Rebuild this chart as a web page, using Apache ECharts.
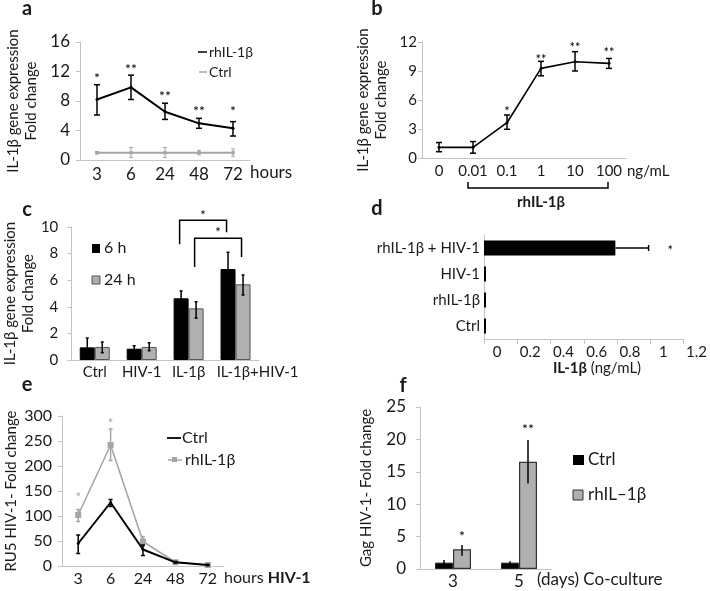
<!DOCTYPE html>
<html><head><meta charset="utf-8">
<script src="https://cdn.jsdelivr.net/npm/echarts@6/dist/echarts.min.js"></script>
<style>html,body{margin:0;padding:0;background:#fff}#c{width:710px;height:591px}</style>
</head><body><div id="c"></div>
<script>
// ---------- DATA ----------
// panel a
const aCats = ['3', '6', '24', '48', '72'];
const aRh = [8.2, 9.85, 6.55, 4.97, 4.3];
const aRhLo = [6.1, 8.2, 5.5, 4.3, 3.25];
const aRhHi = [10.2, 11.5, 7.7, 5.65, 5.2];
const aCtrl = [1.0, 1.0, 1.0, 1.0, 1.0];
const aCtrlLo = [0.85, 0.35, 0.35, 0.7, 0.5];
const aCtrlHi = [1.15, 1.7, 1.7, 1.3, 1.5];
const aStars = ['*', '**', '**', '**', '*'];
const aStarY = [11.1, 12.3, 8.6, 6.6, 6.6];
// panel b
const bCats = ['0', '0.01', '0.1', '1', '10', '100'];
const bVal = [1.1, 1.1, 3.65, 9.27, 9.96, 9.79];
const bLo = [0.65, 0.5, 2.97, 8.5, 9.0, 9.27];
const bHi = [1.6, 1.7, 4.45, 10.0, 11.0, 10.3];
const bStars = ['', '', '*', '**', '**', '**'];
const bStarY = [0, 0, 4.8, 10.2, 11.45, 10.9];
// panel c
const cCats = ['Ctrl', 'HIV-1', 'IL-1β', 'IL-1β+HIV-1'];
const c6h = [0.95, 0.85, 4.64, 6.84];
const c6hLo = [0.3, 0.65, 4.1, 5.6];
const c6hHi = [1.65, 1.07, 5.19, 8.1];
const c24h = [0.98, 0.98, 3.88, 5.69];
const c24hLo = [0.55, 0.7, 3.15, 4.89];
const c24hHi = [1.35, 1.3, 4.38, 6.39];
// brackets: [fromCat, toCat, topValue, leftLegEnd, rightLegEnd, series(0=6h,1=24h)]
const cBrackets = [[2, 3, 10.5, 8.7, 9.6, 0], [2, 3, 9.15, 7.0, 7.75, 1]];
const cBracketStars = ['*', '*'];
// panel d
const dCats = ['Ctrl', 'rhIL-1β', 'HIV-1', 'rhIL-1β + HIV-1'];
const dVal = [0.012, 0.012, 0.012, 0.79];
const dHi = [null, null, null, 0.99];
const dStarX = [null, null, null, 1.12];
const dStars = ['', '', '', '*'];
// panel e
const eCats = ['3', '6', '24', '48', '72'];
const eCtrl = [45, 127, 33, 7.3, 2];
const eCtrlLo = [25, 119, 21, 6, 1];
const eCtrlHi = [62, 133, 42, 9, 3];
const eRh = [102, 242, 49, 7.5, 2];
const eRhLo = [89, 211, 40, 6, 1];
const eRhHi = [113, 274, 59, 9, 3];
const eStars = ['*', '*', '', '', ''];
const eStarY = [136, 285, 0, 0, 0];
// panel f
const fCats = ['3', '5'];
const fCtrl = [0.98, 0.98];
const fCtrlLo = [0.7, 0.8];
const fCtrlHi = [1.4, 1.2];
const fRh = [3.04, 16.56];
const fRhLo = [2.05, 13.2];
const fRhHi = [3.7, 19.9];
const fStars = ['*', '**'];
const fStarY = [5.0, 21.6];

// ---------- STYLE HELPERS ----------
const FF = 'Lato, "Noto Sans", sans-serif';
const TXT = '#1a1a1a';
const AX = '#c4c4c4';
const GREY = '#a6a6a6';

function vErr(offset, cap, color, lw) {
  return function (params, api) {
    const x = api.value(0);
    const lo = api.coord([x, api.value(1)]);
    const hi = api.coord([x, api.value(2)]);
    const cx = lo[0] + offset;
    const st = { stroke: color, lineWidth: lw };
    const ch = [{ type: 'line', shape: { x1: cx, y1: lo[1], x2: cx, y2: hi[1] }, style: st }];
    if (cap > 0) {
      ch.push({ type: 'line', shape: { x1: cx - cap, y1: lo[1], x2: cx + cap, y2: lo[1] }, style: st });
      ch.push({ type: 'line', shape: { x1: cx - cap, y1: hi[1], x2: cx + cap, y2: hi[1] }, style: st });
    }
    return { type: 'group', children: ch };
  };
}
function starRender(offset, size, color) {
  return function (params, api) {
    const p = api.coord([api.value(0), api.value(1)]);
    return { type: 'text', style: { text: api.value(2), x: p[0] + offset, y: p[1], fill: color,
      fontSize: size, fontFamily: FF, align: 'center', verticalAlign: 'middle' } };
  };
}
function errData(lo, hi) { return lo.map((v, i) => [i, v, hi[i]]); }
function starData(ys, labels) {
  return labels.map((s, i) => [i, ys[i], s]).filter(d => d[2] !== '');
}
function yAx(gi, min, max, interval, name, gap, lblSize, margin, extra) {
  return Object.assign({
    gridIndex: gi, type: 'value', min: min, max: max, interval: interval,
    name: name, nameLocation: 'middle', nameGap: gap, nameRotate: 90,
    nameTextStyle: { fontFamily: FF, fontSize: 15, color: TXT, lineHeight: 18 },
    axisLine: { show: true, lineStyle: { color: AX } },
    axisTick: { show: true, length: 4, lineStyle: { color: AX } },
    splitLine: { show: false },
    axisLabel: { fontFamily: FF, fontSize: lblSize, color: TXT, margin: margin }
  }, extra || {});
}
function xCat(gi, data, lblSize, margin, extraLabel) {
  return {
    gridIndex: gi, type: 'category', data: data, boundaryGap: true,
    axisLine: { show: true, lineStyle: { color: AX } },
    axisTick: { show: false },
    axisLabel: Object.assign({ fontFamily: FF, fontSize: lblSize, color: TXT, margin: margin, interval: 0 }, extraLabel || {})
  };
}

const option = {
  animation: false,
  backgroundColor: '#fff',
  grid: [
    { left: 80, top: 42, width: 170, height: 118 },   // a
    { left: 422, top: 42, width: 204, height: 116 },  // b
    { left: 67, top: 227, width: 192, height: 133 },  // c
    { left: 484, top: 235, width: 201, height: 104 }, // d
    { left: 62, top: 416, width: 162, height: 150 },  // e
    { left: 420, top: 407, width: 132, height: 162 }  // f
  ],
  xAxis: [
    xCat(0, aCats, 17, 6),
    xCat(1, bCats, 15, 6),
    xCat(2, cCats, 15, 5, {
      formatter: (v, i) => i === cCats.length - 1 ? '{r|' + v + '}' : v,
      rich: { r: { fontFamily: FF, fontSize: 15, color: TXT, padding: [0, 0, 0, 44] } }
    }),
    {
      gridIndex: 3, type: 'value', min: 0, max: 1.2, interval: 0.2,
      axisLine: { show: true, lineStyle: { color: AX } },
      axisTick: { show: true, length: 5, lineStyle: { color: AX } },
      splitLine: { show: false },
      axisLabel: { fontFamily: FF, fontSize: 15, color: TXT, margin: 6, padding: [0, 0, 0, 26],
        formatter: v => String(Math.round(v * 10) / 10) }
    },
    xCat(4, eCats, 16, 5),
    xCat(5, fCats, 17, 4)
  ],
  yAxis: [
    yAx(0, 0, 16, 4, 'IL-1β gene expression\nFold change', 40, 17, 10),
    yAx(1, 0, 12, 3, 'IL-1β gene expression\nFold change', 32, 15, 5),
    yAx(2, 0, 10, 2, 'IL-1β gene expression\nFold change', 34, 15, 13),
    {
      gridIndex: 3, type: 'category', data: dCats,
      axisLine: { show: true, lineStyle: { color: AX } },
      axisTick: { show: false },
      axisLabel: { fontFamily: FF, fontSize: 15, color: TXT, margin: 4 }
    },
    yAx(4, 0, 300, 50, 'RU5 HIV-1- Fold change', 42, 16, 10),
    yAx(5, 0, 25, 5, 'Gag HIV-1- Fold change', 45, 17, 14)
  ],
  series: [
    // ---- a ----
    { type: 'line', xAxisIndex: 0, yAxisIndex: 0, data: aCtrl, symbol: 'circle', symbolSize: 4,
      lineStyle: { color: GREY, width: 2 }, itemStyle: { color: GREY }, z: 3 },
    { type: 'custom', xAxisIndex: 0, yAxisIndex: 0, renderItem: vErr(0, 2, GREY, 1), data: errData(aCtrlLo, aCtrlHi), z: 3 },
    { type: 'line', xAxisIndex: 0, yAxisIndex: 0, data: aRh, symbol: 'circle', symbolSize: 3,
      lineStyle: { color: '#000', width: 2 }, itemStyle: { color: '#000' }, z: 4 },
    { type: 'custom', xAxisIndex: 0, yAxisIndex: 0, renderItem: vErr(0, 3, '#000', 1.5), data: errData(aRhLo, aRhHi), z: 4 },
    { type: 'custom', xAxisIndex: 0, yAxisIndex: 0, renderItem: starRender(0, 14, '#000'), data: starData(aStarY, aStars) },
    // ---- b ----
    { type: 'line', xAxisIndex: 1, yAxisIndex: 1, data: bVal, symbol: 'circle', symbolSize: 3,
      lineStyle: { color: '#000', width: 1.6 }, itemStyle: { color: '#000' } },
    { type: 'custom', xAxisIndex: 1, yAxisIndex: 1, renderItem: vErr(0, 3, '#000', 1.5), data: errData(bLo, bHi) },
    { type: 'custom', xAxisIndex: 1, yAxisIndex: 1, renderItem: starRender(0, 13, '#000'), data: starData(bStarY, bStars) },
    // ---- c ----
    { type: 'bar', xAxisIndex: 2, yAxisIndex: 2, data: c6h, barWidth: 15, barGap: '0%',
      itemStyle: { color: '#000', borderColor: '#000', borderWidth: 1 } },
    { type: 'bar', xAxisIndex: 2, yAxisIndex: 2, data: c24h, barWidth: 15, barGap: '0%',
      itemStyle: { color: '#b0b0b0', borderColor: '#555', borderWidth: 1 } },
    { type: 'custom', xAxisIndex: 2, yAxisIndex: 2, renderItem: vErr(-7.5, 1.5, '#000', 1.5), data: errData(c6hLo, c6hHi), z: 5 },
    { type: 'custom', xAxisIndex: 2, yAxisIndex: 2, renderItem: vErr(7.5, 1.5, '#000', 1.5), data: errData(c24hLo, c24hHi), z: 5 },
    { type: 'custom', xAxisIndex: 2, yAxisIndex: 2, data: cBrackets.map((b, i) => b.concat([cBracketStars[i]])),
      renderItem: function (params, api) {
        const off = api.value(5) === 0 ? -9 : 6;
        const l = api.coord([api.value(0), api.value(2)]);
        const r = api.coord([api.value(1), api.value(2)]);
        const le = api.coord([api.value(0), api.value(3)]);
        const re = api.coord([api.value(1), api.value(4)]);
        const xl = l[0] + off, xr = r[0] + off;
        const st = { stroke: '#000', lineWidth: 1.5, fill: null };
        return { type: 'group', children: [
          { type: 'polyline', shape: { points: [[xl, le[1]], [xl, l[1]], [xr, l[1]], [xr, re[1]]] }, style: st },
          { type: 'text', style: { text: api.value(6), x: (xl + xr) / 2, y: l[1] - 5, fill: '#000', fontSize: 13,
            fontFamily: FF, align: 'center', verticalAlign: 'middle' } }
        ] };
      } },
    // ---- d ----
    { type: 'bar', xAxisIndex: 3, yAxisIndex: 3, data: dVal, barWidth: 15, itemStyle: { color: '#000' } },
    { type: 'custom', xAxisIndex: 3, yAxisIndex: 3,
      data: dHi.map((v, i) => [i, dVal[i], v]).filter(d => d[2] !== null),
      renderItem: function (params, api) {
        const c = api.value(0);
        const a = api.coord([api.value(1), c]);
        const b = api.coord([api.value(2), c]);
        const st = { stroke: '#000', lineWidth: 1.5 };
        return { type: 'group', children: [
          { type: 'line', shape: { x1: a[0], y1: a[1], x2: b[0], y2: b[1] }, style: st },
          { type: 'line', shape: { x1: b[0], y1: b[1] - 3, x2: b[0], y2: b[1] + 3 }, style: st }
        ] };
      } },
    { type: 'custom', xAxisIndex: 3, yAxisIndex: 3,
      data: dStarX.map((v, i) => [v, i, dStars[i]]).filter(d => d[2] !== ''),
      renderItem: function (params, api) {
        const p = api.coord([api.value(0), api.value(1)]);
        return { type: 'text', style: { text: api.value(2), x: p[0], y: p[1] + 3, fill: '#000', fontSize: 13,
          fontFamily: FF, align: 'center', verticalAlign: 'middle' } };
      } },
    // ---- e ----
    { type: 'line', xAxisIndex: 4, yAxisIndex: 4, data: eCtrl, symbol: 'circle', symbolSize: 3,
      lineStyle: { color: '#000', width: 2 }, itemStyle: { color: '#000' }, z: 4 },
    { type: 'custom', xAxisIndex: 4, yAxisIndex: 4, renderItem: vErr(0, 2, '#000', 1.5), data: errData(eCtrlLo, eCtrlHi), z: 4 },
    { type: 'line', xAxisIndex: 4, yAxisIndex: 4, data: eRh, symbol: 'rect', symbolSize: 6,
      lineStyle: { color: GREY, width: 1.6 }, itemStyle: { color: GREY }, z: 3 },
    { type: 'custom', xAxisIndex: 4, yAxisIndex: 4, renderItem: vErr(0, 2, GREY, 1.5), data: errData(eRhLo, eRhHi), z: 3 },
    { type: 'custom', xAxisIndex: 4, yAxisIndex: 4, renderItem: starRender(0, 13, GREY), data: starData(eStarY, eStars) },
    // ---- f ----
    { type: 'bar', xAxisIndex: 5, yAxisIndex: 5, data: fCtrl, barWidth: 18, barGap: '0%',
      itemStyle: { color: '#000', borderColor: '#222', borderWidth: 1 } },
    { type: 'bar', xAxisIndex: 5, yAxisIndex: 5, data: fRh, barWidth: 18, barGap: '0%',
      itemStyle: { color: '#b0b0b0', borderColor: '#333', borderWidth: 1.2 } },
    { type: 'custom', xAxisIndex: 5, yAxisIndex: 5, renderItem: vErr(-9, 0, '#000', 1.5), data: errData(fCtrlLo, fCtrlHi), z: 5 },
    { type: 'custom', xAxisIndex: 5, yAxisIndex: 5, renderItem: vErr(9, 0, '#000', 1.5), data: errData(fRhLo, fRhHi), z: 5 },
    { type: 'custom', xAxisIndex: 5, yAxisIndex: 5, renderItem: starRender(9, 14, '#000'), data: starData(fStarY, fStars) }
  ],
  graphic: [
    // panel letters
    { type: 'text', x: 27, y: 9, style: { text: 'a', fontSize: 20, fontWeight: 'bold', fontFamily: FF, fill: TXT, align: 'center', verticalAlign: 'middle' } },
    { type: 'text', x: 377, y: 9, style: { text: 'b', fontSize: 20, fontWeight: 'bold', fontFamily: FF, fill: TXT, align: 'center', verticalAlign: 'middle' } },
    { type: 'text', x: 27, y: 210, style: { text: 'c', fontSize: 20, fontWeight: 'bold', fontFamily: FF, fill: TXT, align: 'center', verticalAlign: 'middle' } },
    { type: 'text', x: 377, y: 209, style: { text: 'd', fontSize: 20, fontWeight: 'bold', fontFamily: FF, fill: TXT, align: 'center', verticalAlign: 'middle' } },
    { type: 'text', x: 27, y: 385, style: { text: 'e', fontSize: 20, fontWeight: 'bold', fontFamily: FF, fill: TXT, align: 'center', verticalAlign: 'middle' } },
    { type: 'text', x: 403, y: 386, style: { text: 'f', fontSize: 20, fontWeight: 'bold', fontFamily: FF, fill: TXT, align: 'center', verticalAlign: 'middle' } },
    // a legend + axis unit
    { type: 'line', shape: { x1: 198, y1: 52, x2: 207, y2: 52 }, style: { stroke: '#000', lineWidth: 1.5 } },
    { type: 'text', x: 209, y: 52, style: { text: 'rhIL-1β', fontSize: 14, fontFamily: FF, fill: TXT, verticalAlign: 'middle' } },
    { type: 'line', shape: { x1: 199, y1: 72, x2: 207, y2: 72 }, style: { stroke: GREY, lineWidth: 1.5 } },
    { type: 'text', x: 209, y: 72, style: { text: 'Ctrl', fontSize: 14, fontFamily: FF, fill: TXT, verticalAlign: 'middle' } },
    { type: 'text', x: 250, y: 173, style: { text: 'hours', fontSize: 17, fontFamily: FF, fill: TXT, verticalAlign: 'middle' } },
    // b unit + bracket
    { type: 'text', x: 627, y: 171, style: { text: 'ng/mL', fontSize: 15, fontFamily: FF, fill: TXT, verticalAlign: 'middle' } },
    { type: 'polyline', shape: { points: [[468, 182], [468, 188], [608, 188], [608, 182]] }, style: { stroke: '#000', lineWidth: 1.5, fill: null } },
    { type: 'text', x: 541, y: 202, style: { text: 'rhIL-1β', fontSize: 15, fontWeight: 'bold', fontFamily: FF, fill: TXT, align: 'center', verticalAlign: 'middle' } },
    // c legend
    { type: 'rect', shape: { x: 92, y: 244, width: 8, height: 9 }, style: { fill: '#000' } },
    { type: 'text', x: 104, y: 248, style: { text: '6 h', fontSize: 16, fontFamily: FF, fill: TXT, verticalAlign: 'middle' } },
    { type: 'rect', shape: { x: 92, y: 276, width: 8, height: 8 }, style: { fill: '#b0b0b0', stroke: '#555', lineWidth: 1 } },
    { type: 'text', x: 104, y: 280, style: { text: '24 h', fontSize: 16, fontFamily: FF, fill: TXT, verticalAlign: 'middle' } },
    // d axis name
    { type: 'text', x: 597, y: 368, style: { text: '{b|IL-1β} (ng/mL)', fontSize: 15, fontFamily: FF, fill: TXT, align: 'center', verticalAlign: 'middle',
      rich: { b: { fontWeight: 'bold', fontSize: 15, fontFamily: FF, fill: TXT } } } },
    // e legend + axis unit
    { type: 'line', shape: { x1: 167, y1: 438, x2: 181, y2: 438 }, style: { stroke: '#000', lineWidth: 1.8 } },
    { type: 'text', x: 182, y: 438, style: { text: 'Ctrl', fontSize: 16, fontFamily: FF, fill: TXT, verticalAlign: 'middle' } },
    { type: 'line', shape: { x1: 168, y1: 460, x2: 182, y2: 460 }, style: { stroke: GREY, lineWidth: 1.5 } },
    { type: 'rect', shape: { x: 172, y: 457, width: 5, height: 5 }, style: { fill: GREY } },
    { type: 'text', x: 185, y: 460, style: { text: 'rhIL-1β', fontSize: 16, fontFamily: FF, fill: TXT, verticalAlign: 'middle' } },
    { type: 'text', x: 224, y: 578, style: { text: 'hours {b|HIV-1}', fontSize: 16, fontFamily: FF, fill: TXT, verticalAlign: 'middle',
      rich: { b: { fontWeight: 'bold', fontSize: 16, fontFamily: FF, fill: TXT } } } },
    // f legend + axis unit
    { type: 'rect', shape: { x: 573, y: 455, width: 11, height: 10 }, style: { fill: '#000' } },
    { type: 'text', x: 588, y: 460, style: { text: 'Ctrl', fontSize: 17, fontFamily: FF, fill: TXT, verticalAlign: 'middle' } },
    { type: 'rect', shape: { x: 573, y: 490, width: 10, height: 10 }, style: { fill: '#b0b0b0', stroke: '#333', lineWidth: 1 } },
    { type: 'text', x: 588, y: 495, style: { text: 'rhIL–1β', fontSize: 17, fontFamily: FF, fill: TXT, verticalAlign: 'middle' } },
    { type: 'text', x: 537, y: 580, style: { text: '(days) Co-culture', fontSize: 17, fontFamily: FF, fill: TXT, verticalAlign: 'middle' } }
  ]
};
const chart = echarts.init(document.getElementById('c'), null, { renderer: 'canvas' });
chart.setOption(option);
</script>
</body></html>
